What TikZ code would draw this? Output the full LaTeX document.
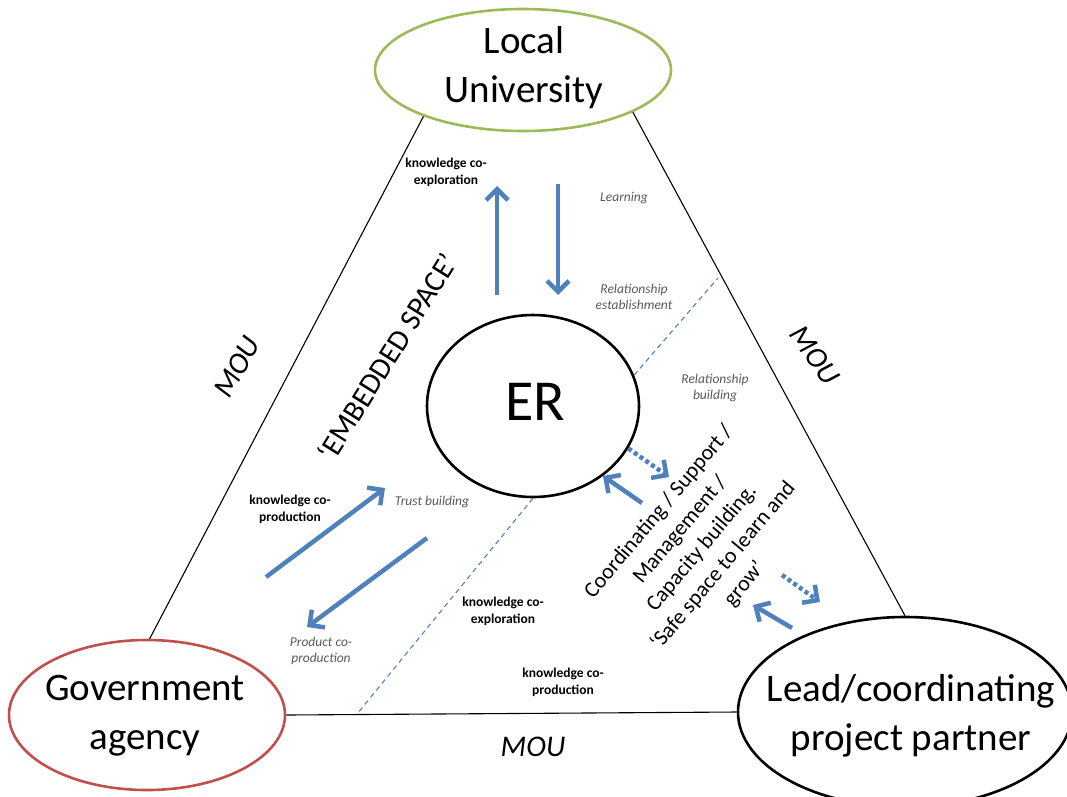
\documentclass[tikz,border=0pt]{standalone}
\usepackage{fontspec}
\setmainfont{Carlito}
\usetikzlibrary{arrows.meta, shapes.geometric}
\definecolor{flowblue} {HTML}{4F81BD}
\definecolor{unigreen} {HTML}{9BBB59}
\definecolor{govred}   {HTML}{C0504D}
\definecolor{notegray} {HTML}{595959}

\tikzset{
  actor/.style={ellipse, draw, line width=2.6pt, inner sep=0pt},
  bigtext/.style={align=center, font=\fontsize{39}{49}\selectfont},
  side/.style={line width=1.1pt},
  mou/.style={font=\fontsize{30}{32}\selectfont\itshape},
  flow/.style={draw=flowblue, line width=4.5pt,
    -{Straight Barb[length=11pt, width=22pt]}},
  dotflow/.style={flow, dash pattern=on 4pt off 3pt},
  split/.style={draw=flowblue, line width=1.1pt, dash pattern=on 5pt off 4pt},
  knote/.style={align=center, font=\fontsize{13.5}{17}\selectfont\bfseries},
  inote/.style={align=center, text=notegray, font=\fontsize{13.5}{16.5}\selectfont\itshape}
}

\begin{document}
\begin{tikzpicture}[x=1pt, y=-1pt]
  \useasboundingbox (0,0) rectangle (1067,796);

  % the partners and the ER
  \node[actor, draw=unigreen, minimum width=296pt, minimum height=122pt] (uni) at (523,70) {};
  \node[actor, draw=govred, minimum width=276pt, minimum height=150pt] (gov) at (147,715) {};
  \node[actor, draw=black, minimum width=334pt, minimum height=190pt] (lead) at (905,712) {};
  \node[actor, draw=black, minimum width=212pt, minimum height=182pt] (er) at (533,406) {};
  \node[bigtext] (unitext) at (524,68) {Local\\University};
  \node[bigtext] (govtext) at (145,716) {Government\\agency};
  \node[bigtext] (leadtext) at (911,716) {Lead/coordinating\\project partner};
  \node[font=\fontsize{58}{60}\selectfont] (ertext) at (535,402) {ER};

  % MOU triangle
  \draw[side] (uni.205) -- (gov.88);
  \draw[side] (uni.-21) -- (lead.90);
  \draw[side] (gov.0) -- (lead.180);
  \node[mou, rotate=60] (moul) at (237,367) {MOU};
  \node[mou, rotate=-55] (mour) at (815,355) {MOU};
  \node[mou] (moub) at (533,747) {MOU};
  \node[font=\fontsize{30}{32}\selectfont, rotate=58] (embed) at (387,357) {‘EMBEDDED SPACE’};

  % dashed borders of the embedded space
  \coordinate (cutN) at (718,278);
  \coordinate (cutS) at (357,714);
  \draw[split] (er.17) -- (cutN);
  \draw[split] (er.south) -- (cutS);

  % flows
  \coordinate (upA) at (497,295);  \coordinate (upB) at (497,186);
  \coordinate (dnA) at (558,184);  \coordinate (dnB) at (558,295);
  \coordinate (trA) at (266,577);  \coordinate (trB) at (385,488);
  \coordinate (prA) at (427,538);  \coordinate (prB) at (307,627);
  \coordinate (cdA) at (642,503);
  \coordinate (cdB) at (669,477);
  \coordinate (lpA) at (792,628);  \coordinate (lpB) at (753,605);
  \coordinate (lqA) at (782,575);  \coordinate (lqB) at (820,602);
  \draw[flow] (upA) -- (upB);
  \draw[flow] (dnA) -- (dnB);
  \draw[flow] (trA) -- (trB);
  \draw[flow] (prA) -- (prB);
  \draw[flow] (cdA) -- (er.-45);
  \draw[dotflow] (er.-24) -- (cdB);
  \draw[flow] (lpA) -- (lpB);
  \draw[dotflow] (lqA) -- (lqB);

  % notes
  \node[knote] (kexpu) at (446,172) {knowledge co-\\exploration};
  \node[inote] (learn) at (624,198) {Learning};
  \node[inote] (relest) at (634,297) {Relationship\\establishment};
  \node[inote] (relbld) at (715,388) {Relationship\\building};
  \node[knote] (kprodl) at (290,509) {knowledge co-\\production};
  \node[inote] (trust) at (432,502) {Trust building};
  \node[inote] (prod) at (321,651) {Product co-\\production};
  \node[knote] (kexpl) at (503,611) {knowledge co-\\exploration};
  \node[knote] (kprodb) at (563,682) {knowledge co-\\production};
  \node[align=center, rotate=50, font=\fontsize{22}{28}\selectfont] (coord) at (702,548)
    {Coordinating / Support /\\Management /\\Capacity building.\\‘Safe space to learn and\\grow’};
\end{tikzpicture}
\end{document}
